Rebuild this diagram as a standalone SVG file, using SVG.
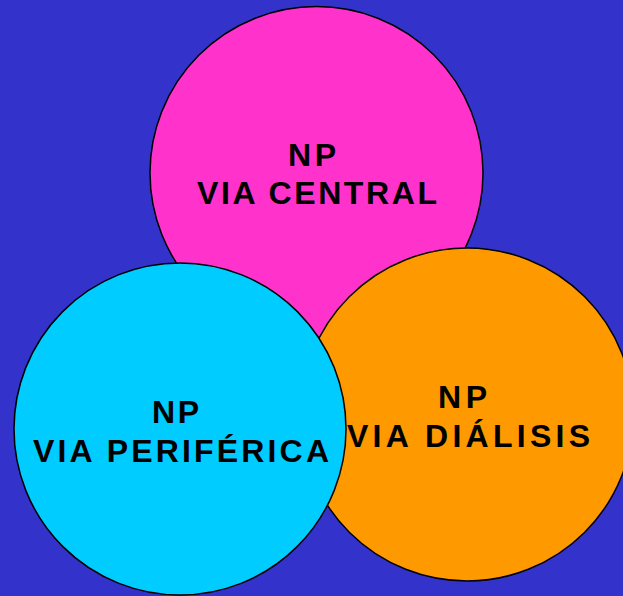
<svg xmlns="http://www.w3.org/2000/svg" width="623" height="596" viewBox="0 0 623 596">
<style>
.c{stroke:#000;stroke-width:1.5}
.t{font-family:"Liberation Sans",Arial,sans-serif;font-weight:bold;font-size:32px;fill:#000}
</style>
<rect width="623" height="596" fill="#3333CC"/>
<g id="central">
<circle class="c" cx="316.5" cy="173" r="166.5" fill="#FF33CC"/>
<text class="t" x="288" y="166" textLength="48" lengthAdjust="spacing">NP</text>
<text class="t" x="197" y="204" textLength="240" lengthAdjust="spacing">VIA CENTRAL</text>
</g>
<g id="dialisis">
<circle class="c" cx="467" cy="414.5" r="166.5" fill="#FF9900"/>
<text class="t" x="438" y="408" textLength="49" lengthAdjust="spacing">NP</text>
<text class="t" x="347" y="447" textLength="243" lengthAdjust="spacing">VIA DIÁLISIS</text>
</g>
<g id="periferica">
<circle class="c" cx="180" cy="429" r="166" fill="#00CCFF"/>
<text class="t" x="152" y="423" textLength="47" lengthAdjust="spacing">NP</text>
<text class="t" x="33" y="462" textLength="296" lengthAdjust="spacing">VIA PERIFÉRICA</text>
</g>
<g id="connectors"/>
</svg>
